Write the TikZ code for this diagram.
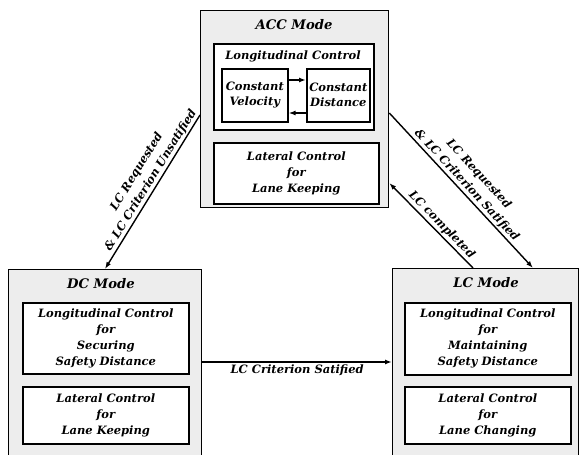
\documentclass[tikz,border=0pt]{standalone}
\usepackage{fontspec}
\setmainfont{DejaVu Serif}
\usetikzlibrary{arrows.meta}
\begin{document}
\begin{tikzpicture}[x=1pt,y=-1pt,
  outerbox/.style={draw=black, line width=1.3pt, fill=black!7, inner sep=0pt, anchor=north west},
  innerbox/.style={draw=black, line width=1.6pt, fill=white, inner sep=0pt, anchor=north west},
  txt/.style={font=\fontsize{11.5}{16}\selectfont\bfseries\itshape, align=center, inner sep=1pt},
  ttl/.style={font=\fontsize{13.2}{15}\selectfont\bfseries\itshape, inner sep=0pt},
  arr/.style={line width=1.4pt, -{Latex[length=7pt,width=5pt]}},
  lbl/.style={font=\fontsize{11.5}{16.5}\selectfont\bfseries\itshape, align=center, inner sep=1.5pt}
]
\useasboundingbox (0,0) rectangle (579,455);
\begin{scope}
\clip (0,0) rectangle (579,455);
% ACC mode
\node[outerbox, minimum width=188pt, minimum height=197pt] (acc) at (200,10) {};
\node[ttl] (acct) at (294,25) {ACC Mode};
\node[innerbox, minimum width=160pt, minimum height=86pt] (lon) at (213,43) {};
\node[txt] (lont) at (293,56) {Longitudinal Control};
\node[innerbox, minimum width=66pt, minimum height=53pt] (cv) at (221,68) {};
\node[txt] (cvt) at (cv.center) {Constant\\[-1pt]Velocity};
\node[innerbox, minimum width=63pt, minimum height=53pt] (cd) at (306,68) {};
\node[txt] (cdt) at (cd.center) {Constant\\[-1pt]Distance};
\draw[arr] ([yshift=-12pt]cv.north east) -- ([yshift=-12pt]cd.north west);
\draw[arr] ([yshift=-45pt]cd.north west) -- ([yshift=-45pt]cv.north east);
\node[innerbox, minimum width=165pt, minimum height=61pt] (latacc) at (213,142) {};
\node[txt] (latacct) at (latacc.center) {Lateral Control\\for\\Lane Keeping};
% DC mode
\node[outerbox, minimum width=193pt, minimum height=200pt] (dc) at (8,269) {};
\node[ttl] (dct) at (101,284) {DC Mode};
\node[innerbox, minimum width=166pt, minimum height=71pt] (dclon) at (22,302) {};
\node[txt] (dclont) at (dclon.center) {Longitudinal Control\\for\\Securing\\Safety Distance};
\node[innerbox, minimum width=166pt, minimum height=57pt] (dclat) at (22,386) {};
\node[txt] (dclatt) at (dclat.center) {Lateral Control\\for\\Lane Keeping};
% LC mode
\node[outerbox, minimum width=186pt, minimum height=200pt] (lc) at (392,268) {};
\node[ttl] (lct) at (486,283) {LC Mode};
\node[innerbox, minimum width=166pt, minimum height=72pt] (lclon) at (404,302) {};
\node[txt] (lclont) at (lclon.center) {Longitudinal Control\\for\\Maintaining\\Safety Distance};
\node[innerbox, minimum width=166pt, minimum height=57pt] (lclat) at (404,386) {};
\node[txt] (lclatt) at (lclat.center) {Lateral Control\\for\\Lane Changing};
\end{scope}
% transitions
\draw[arr, {Latex[length=7pt,width=5pt]}-] ([xshift=97pt]dc.north west) -- ([yshift=-105pt]acc.north west)
  node[lbl, pos=0.55, sloped, above] (l1) {LC Requested\\\& LC Criterion Unsatified};
\draw[arr] ([yshift=-103pt]acc.north east) -- ([xshift=141pt]lc.north west)
  node[lbl, pos=0.5, sloped, above] (l2) {LC Requested\\\& LC Criterion Satified};
\draw[arr, {Latex[length=7pt,width=5pt]}-] ([yshift=-173pt]acc.north east) -- ([xshift=81pt]lc.north west)
  node[lbl, pos=0.56, sloped, above] (l3) {LC completed};
\draw[arr] ([yshift=-93pt]dc.north east) -- ([yshift=-94pt]lc.north west)
  node[lbl, midway, below=1pt] (l4) {LC Criterion Satified};
\end{tikzpicture}
\end{document}
